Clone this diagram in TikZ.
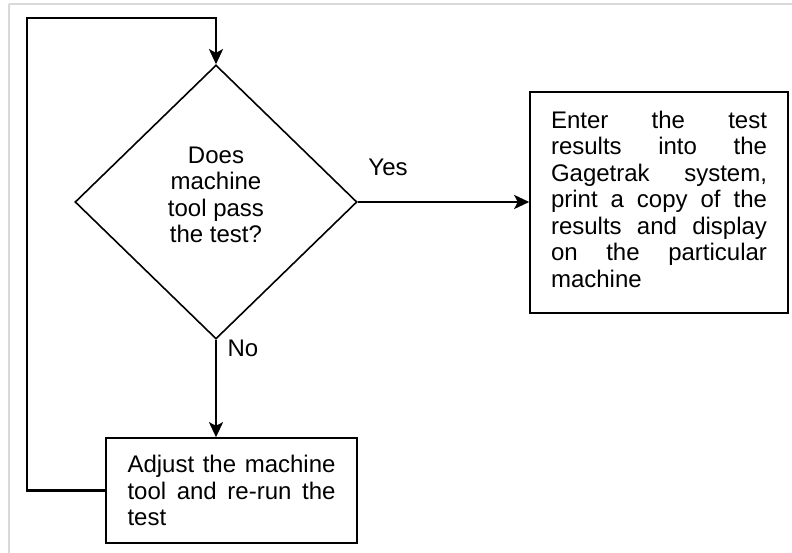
\documentclass[tikz,border=0pt]{standalone}
\usepackage{fontspec}
\setmainfont{Liberation Sans}
\usetikzlibrary{shapes.geometric,arrows.meta}

\tikzset{
  txt/.style={font=\fontsize{24}{26.5}\selectfont},
  procbox/.style={draw=black, line width=1.6pt, txt, align=justify, inner ysep=0pt},
  decision/.style={draw=black, line width=1.6pt, shape=diamond, inner sep=0pt},
  conn/.style={draw=black, line width=2.2pt,
    -{Stealth[length=15pt,width=14pt,inset=3.5pt]}},
  lbl/.style={txt, inner sep=0pt},
  frameline/.style={draw=black!15, line width=2pt}
}

\begin{document}
\begin{tikzpicture}[x=1pt,y=-1pt]
  \useasboundingbox (0,0) rectangle (792,553);
  \fill[white] (0,0) rectangle (792,553);
  % light page frame along the top and left
  \draw[frameline] (9,4) -- (792,4);
  \draw[frameline] (9,4) -- (9,553);

  % decision
  \node[decision, minimum width=282pt, minimum height=274pt] (dq) at (216,202) {};
  \node[lbl, align=center] (dqtext) at (216,195)
    {Does\\machine\\tool pass\\the test?};

  % outcome boxes
  \node[procbox, text width=216pt, inner xsep=21pt, minimum height=221pt]
    (res) at (659,202.5) {};
  \node[txt, text width=216pt, align=justify, inner sep=0pt] (restext) at (659,199)
    {Enter the test\linebreak results into the\linebreak Gagetrak system,\linebreak
     print a copy of the\linebreak results and display\linebreak on the particular\linebreak machine};
  \node[procbox, text width=208pt, inner xsep=21.5pt, minimum height=105pt]
    (fix) at (231.5,490.5)
    {Adjust the machine\linebreak tool and re-run the\linebreak test};

  % connectors
  \coordinate (loopL) at (27,18);
  \draw[conn] (dq.east) -- (dq.east -| res.west);
  \draw[conn] (dq.south) -- (dq.south |- fix.north);
  \draw[conn] (fix.west) -| (loopL) -| (dq.north);

  % branch labels
  \node[lbl] (yes) at (388,167) {Yes};
  \node[lbl] (no) at (243,348) {No};
\end{tikzpicture}
\end{document}
